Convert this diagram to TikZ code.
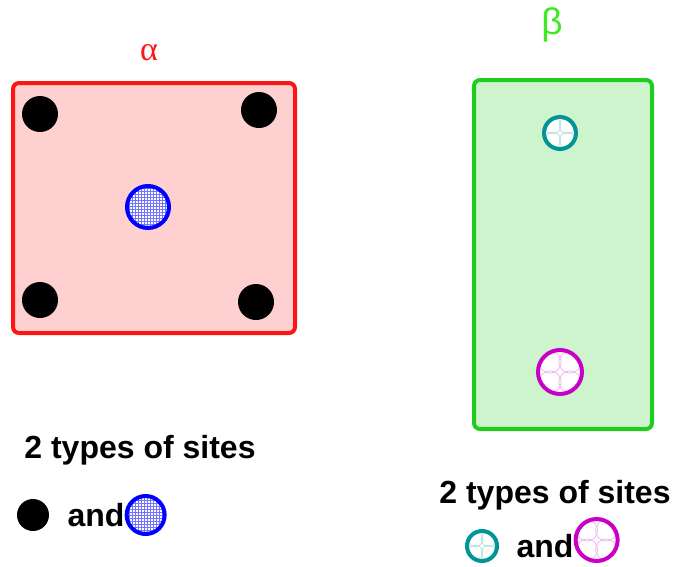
\documentclass[tikz,border=0pt]{standalone}
\usepackage{fontspec}
\setmainfont{Liberation Sans}
\newfontfamily\greekserif{Liberation Serif}
\usetikzlibrary{patterns,positioning}
\definecolor{phred}{RGB}{255,20,20}
\definecolor{phgreen}{RGB}{30,205,30}
\definecolor{betagreen}{RGB}{60,235,30}
\definecolor{siteblue}{RGB}{0,0,255}
\definecolor{siteteal}{RGB}{0,150,150}
\definecolor{sitemag}{RGB}{200,0,200}

\begin{document}
\begin{tikzpicture}[x=1pt, y=-1pt,
  phasebox/.style={rectangle, rounded corners=6pt, line width=4pt},
  blacksite/.style={circle, fill=black, inner sep=0pt, minimum size=36pt},
  gridsite/.style={circle, draw=siteblue, line width=4pt, inner sep=0pt,
    preaction={fill=white}, pattern=grid, pattern color=siteblue!55},
  ringsite/.style 2 args={circle, draw=#1, line width=4pt, inner sep=0pt, fill=white,
    minimum size=#2,
    path picture={
      \foreach \dx/\dy in {-1/-1, 1/-1, -1/1, 1/1}
        \draw[#1!28, line width=0.8pt]
          ([shift={(\dx*0.225*#2, \dy*0.225*#2)}]path picture bounding box.center)
          circle[radius=0.25*#2];}},
  legend/.style={font=\bfseries\fontsize{32}{36}\selectfont, inner sep=0pt}]

  \useasboundingbox (0,0) rectangle (673,566);

  % Phase alpha
  \node[phasebox, draw=phred, fill=phred!20, minimum width=282pt, minimum height=250pt]
    (alpha) at (154,208) {};
  \node[text=phred, font=\greekserif\fontsize{34}{36}\selectfont] (alphalab) at (149,53) {α};
  \node[blacksite] (acorner1) at (40,114) {};
  \node[blacksite] (acorner2) at (259,110) {};
  \node[blacksite] (acorner3) at (40,300) {};
  \node[blacksite] (acorner4) at (256,302) {};
  \node[gridsite, minimum size=42pt] (acenter) at (148,207) {};

  % Phase beta
  \node[phasebox, draw=phgreen, fill=phgreen!22, minimum width=178pt, minimum height=349pt]
    (beta) at (563,254.5) {};
  \node[text=betagreen, font=\fontsize{37}{40}\selectfont] (betalab) at (552,25) {β};
  \node[ringsite={siteteal}{32pt}] (btop) at (560,133) {};
  \node[ringsite={sitemag}{44pt}] (bbottom) at (560,372) {};

  % Legend alpha
  \node[legend] (alphatitle) at (140,450) {2 types of sites};
  \node[blacksite, minimum size=32pt] (akey1) at (33,515) {};
  \node[legend] (alphaand) at (96,515) {and};
  \node[gridsite, minimum size=38pt, right=0pt of alphaand] (akey2) {};

  % Legend beta
  \node[legend] (betatitle) at (555,495) {2 types of sites};
  \node[ringsite={siteteal}{30pt}] (bkey1) at (482,546) {};
  \node[legend] (betaand) at (545,546) {and};
  \node[ringsite={sitemag}{42pt}, right=0pt of betaand, yshift=6pt] (bkey2) {};
\end{tikzpicture}
\end{document}
